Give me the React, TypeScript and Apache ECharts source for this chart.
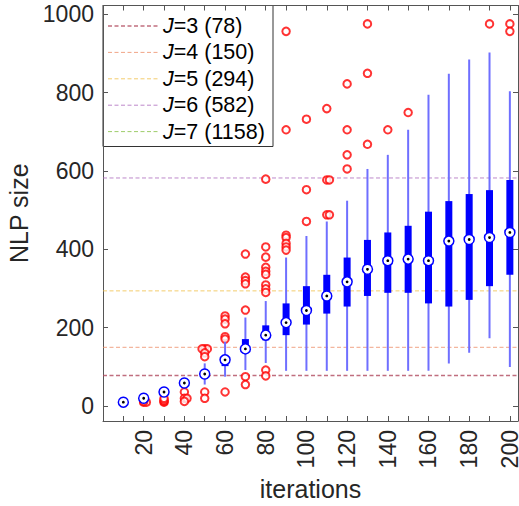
import React, { useEffect, useRef } from "react";
import * as echarts from "echarts";

// ---- data ----
const iterations = [10, 20, 30, 40, 50, 60, 70, 80, 90, 100, 110, 120, 130, 140, 150, 160, 170, 180, 190, 200];
const whiskerLow = [10, 20, 36, 59, 55, 75, 92, 110, 90, 90, 90, 90, 90, 90, 90, 90, 109, 136, 173, 100];
const quartile1 = [10, 20, 36, 59, 75, 102, 145, 168, 181, 208, 236, 254, 281, 289, 289, 262, 254, 271, 306, 335];
const medians = [10, 20, 36, 59, 82, 118, 146, 181, 213, 244, 281, 317, 349, 371, 375, 371, 421, 425, 430, 443];
const quartile3 = [10, 20, 36, 59, 92, 128, 171, 206, 262, 306, 335, 379, 424, 443, 460, 496, 523, 541, 551, 577];
const whiskerHigh = [10, 20, 36, 59, 109, 164, 226, 268, 379, 434, 471, 524, 605, 641, 705, 794, 848, 884, 902, 803];
const outlierValues: number[][] = [
  [],
  [10, 10, 12],
  [10, 12, 15, 20],
  [36, 20, 20, 12],
  [146, 146, 146, 136, 126, 36, 20],
  [230, 222, 210, 177, 171, 36],
  [388, 329, 320, 312, 245, 75, 55],
  [579, 406, 380, 354, 344, 336, 309, 299, 290, 92, 77],
  [956, 705, 436, 430, 415, 406, 398],
  [732, 552, 471],
  [759, 577, 577, 488, 488],
  [822, 705, 641, 605],
  [975, 849, 668],
  [705],
  [749],
  [],
  [],
  [],
  [975],
  [975, 956],
];
const jLevels = [3, 4, 5, 6, 7];
const jSizes = [78, 150, 294, 582, 1158];
const jColors = ["#b04a5e", "#ec8d68", "#f0bf4a", "#ad6abd", "#86bf45"];
const jWidths = [1.5, 1, 1, 1, 1];
const xTickValues = [10, 20, 30, 40, 50, 60, 70, 80, 90, 100, 110, 120, 130, 140, 150, 160, 170, 180, 190, 200];
const xLabelValues = [20, 40, 60, 80, 100, 120, 140, 160, 180, 200];
const yTickValues = [0, 200, 400, 600, 800, 1000];

const FONT = "Liberation Sans, Arial, Helvetica, sans-serif";
const TEXT = "#262626";
const AXIS = "#555555";
const X_MIN = 0;
const X_MAX = 204;
const Y_MIN = -38;
const Y_MAX = 1022;

export default function App() {
  const ref = useRef<HTMLDivElement>(null);
  useEffect(() => {
    if (!ref.current) return;
    const chart = echarts.init(ref.current, null, { renderer: "svg" });

    const boxData = iterations.map((it, i) => [
      it,
      whiskerLow[i],
      quartile1[i],
      medians[i],
      quartile3[i],
      whiskerHigh[i],
    ]);

    const outlierData: number[][] = [];
    iterations.forEach((it, i) => {
      const seen: Record<string, number> = {};
      outlierValues[i].forEach((v) => {
        const k = String(v);
        const n = seen[k] || 0;
        seen[k] = n + 1;
        const off = n === 0 ? 0 : n % 2 === 1 ? 1.3 : -1.3;
        outlierData.push([it + off, v]);
      });
    });

    const jNames = jLevels.map((j, i) => `J=${j} (${jSizes[i]})`);

    const lineSeries = jLevels.map((_, i) => ({
      type: "line",
      name: jNames[i],
      data: [
        [X_MIN, jSizes[i]],
        [X_MAX, jSizes[i]],
      ],
      symbol: "none",
      silent: true,
      z: 1,
      lineStyle: { color: jColors[i], width: jWidths[i], type: [4, 2.5], opacity: 0.8 },
      itemStyle: { color: jColors[i] },
    }));

    // legend drawn as a graphic box (lines + real text)
    const legLeft = 103;
    const legTop = 5.5;
    const rowY0 = 26;
    const rowStep = 26.4;
    const legendChildren: any[] = [
      {
        type: "rect",
        shape: { x: legLeft, y: legTop, width: 170, height: 141 },
        style: { fill: "#ffffff", stroke: "#333333", lineWidth: 1 },
      },
    ];
    jNames.forEach((name, i) => {
      const y = rowY0 + i * rowStep;
      legendChildren.push({
        type: "line",
        shape: { x1: legLeft + 5, y1: y, x2: legLeft + 57, y2: y },
        style: { stroke: jColors[i], lineWidth: jWidths[i], lineDash: [4, 2.5], opacity: 0.8 },
      });
      legendChildren.push({
        type: "text",
        x: legLeft + 60,
        y: y,
        style: {
          text: "{i|J}" + name.slice(1),
          fontFamily: FONT,
          fontSize: 21.5,
          fill: "#000000",
          verticalAlign: "middle",
          align: "left",
          rich: {
            i: { fontStyle: "italic", fontFamily: FONT, fontSize: 21.5, fill: "#000000" },
          },
        },
      });
    });

    const axisCommon = {
      axisLine: { show: true, onZero: false, lineStyle: { color: AXIS, width: 1 } },
      splitLine: { show: false },
    };

    const option: any = {
      animation: false,
      grid: {
        left: 103,
        right: 1,
        top: 5.5,
        bottom: 85,
        outerBoundsMode: "none",
        containLabel: false,
      },
      graphic: [{ type: "group", z: 100, children: legendChildren }],
      xAxis: [
        {
          type: "value",
          position: "bottom",
          min: X_MIN,
          max: X_MAX,
          ...axisCommon,
          axisTick: { show: true, inside: true, length: 5, customValues: xTickValues, lineStyle: { color: AXIS } },
          axisLabel: {
            show: true,
            customValues: xLabelValues,
            rotate: 90,
            margin: 9,
            fontSize: 23,
            fontFamily: FONT,
            color: TEXT,
            formatter: (v: number) => String(v),
          },
          name: "iterations",
          nameLocation: "middle",
          nameGap: 52,
          nameTextStyle: { fontSize: 25, fontFamily: FONT, color: TEXT },
        },
        {
          type: "value",
          position: "top",
          min: X_MIN,
          max: X_MAX,
          ...axisCommon,
          axisTick: { show: true, inside: true, length: 5, customValues: xTickValues, lineStyle: { color: AXIS } },
          axisLabel: { show: false },
        },
      ],
      yAxis: [
        {
          type: "value",
          position: "left",
          min: Y_MIN,
          max: Y_MAX,
          ...axisCommon,
          axisTick: { show: true, inside: true, length: 5, customValues: yTickValues, lineStyle: { color: AXIS } },
          axisLabel: {
            show: true,
            customValues: yTickValues,
            margin: 9,
            fontSize: 23,
            fontFamily: FONT,
            color: TEXT,
            formatter: (v: number) => String(v),
          },
          name: "NLP size",
          nameLocation: "middle",
          nameGap: 64,
          nameRotate: 90,
          nameTextStyle: { fontSize: 25, fontFamily: FONT, color: TEXT },
        },
        {
          type: "value",
          position: "right",
          min: Y_MIN,
          max: Y_MAX,
          ...axisCommon,
          axisTick: { show: true, inside: true, length: 5, customValues: yTickValues, lineStyle: { color: AXIS } },
          axisLabel: { show: false },
        },
      ],
      series: [
        ...lineSeries,
        {
          type: "scatter",
          name: "outliers",
          data: outlierData,
          symbol: "emptyCircle",
          symbolSize: 7.5,
          silent: true,
          z: 2,
          itemStyle: { color: "#ff0000", borderColor: "#ff0000", borderWidth: 1 },
        },
        {
          type: "custom",
          name: "boxes",
          data: boxData,
          encode: { x: 0, y: [1, 2, 3, 4, 5] },
          silent: true,
          z: 3,
          renderItem: (_params: any, api: any) => {
            const x = api.value(0);
            const low = api.coord([x, api.value(1)]);
            const q1 = api.coord([x, api.value(2)]);
            const med = api.coord([x, api.value(3)]);
            const q3 = api.coord([x, api.value(4)]);
            const high = api.coord([x, api.value(5)]);
            const children: any[] = [];
            if (low[1] - high[1] > 0.5) {
              children.push({
                type: "line",
                shape: { x1: low[0], y1: low[1], x2: high[0], y2: high[1] },
                style: { stroke: "#6f6fff", lineWidth: 2 },
              });
            }
            if (q1[1] - q3[1] > 0.5) {
              children.push({
                type: "rect",
                shape: { x: q1[0] - 3.5, y: q3[1], width: 7, height: q1[1] - q3[1] },
                style: { fill: "#0000ff" },
              });
            }
            children.push({
              type: "circle",
              shape: { cx: med[0], cy: med[1], r: 5 },
              style: { fill: "#ffffff", stroke: "#0000ff", lineWidth: 1.5 },
            });
            children.push({
              type: "circle",
              shape: { cx: med[0], cy: med[1], r: 1.4 },
              style: { fill: "#000000" },
            });
            return { type: "group", children };
          },
        },
      ],
    };

    chart.setOption(option);
    return () => chart.dispose();
  }, []);

  return (
    <div
      ref={ref}
      style={{ position: "absolute", left: 0, top: 0, width: 519, height: 506, background: "#ffffff" }}
    />
  );
}
